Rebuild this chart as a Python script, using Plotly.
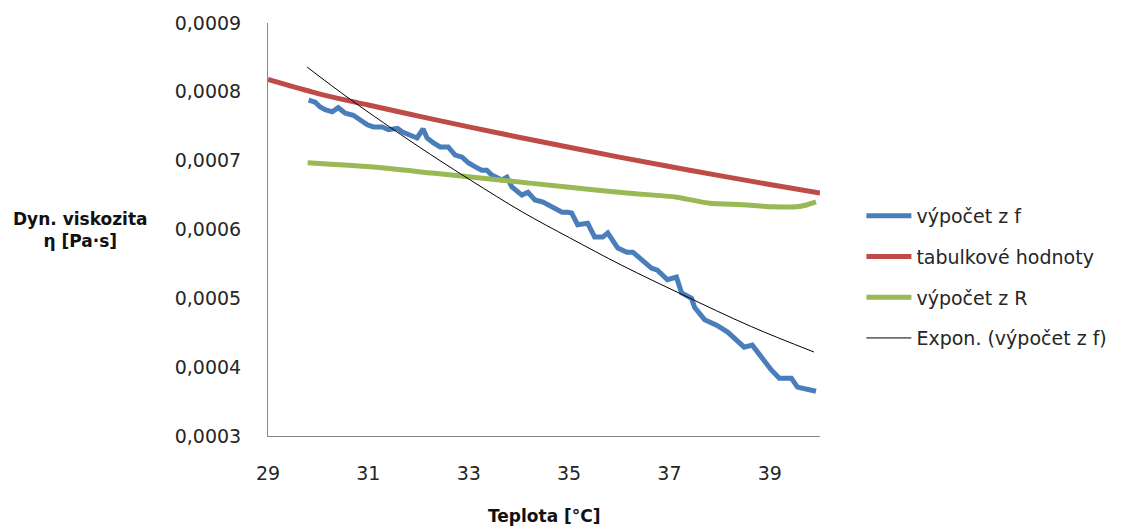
import plotly.graph_objects as go

# --- data ---
t_f = [29.81, 29.94, 30.04, 30.14, 30.28, 30.40, 30.54, 30.70, 30.84, 30.98,
       31.10, 31.28, 31.40, 31.58, 31.67, 31.83, 31.97, 32.09, 32.17, 32.29,
       32.43, 32.59, 32.73, 32.87, 32.99, 33.13, 33.26, 33.36, 33.46, 33.66,
       33.76, 33.86, 34.06, 34.18, 34.32, 34.48, 34.66, 34.86, 34.97, 35.05,
       35.17, 35.37, 35.51, 35.67, 35.77, 35.97, 36.15, 36.27, 36.45, 36.64,
       36.76, 36.96, 37.14, 37.24, 37.44, 37.50, 37.70, 37.94, 38.16, 38.29,
       38.49, 38.65, 38.83, 39.03, 39.19, 39.43, 39.55, 39.83, 39.92]
eta_f = [0.000788, 0.000785, 0.000778, 0.000774, 0.000771, 0.000777, 0.000769, 0.000766, 0.000759, 0.000752,
         0.000749, 0.000749, 0.000745, 0.000747, 0.000742, 0.000737, 0.000733, 0.000746, 0.000733, 0.000726,
         0.000720, 0.000720, 0.000708, 0.000705, 0.000697, 0.000691, 0.000686, 0.000686, 0.000679, 0.000672,
         0.000676, 0.000662, 0.000650, 0.000654, 0.000643, 0.000640, 0.000633, 0.000625, 0.000625, 0.000624,
         0.000607, 0.000609, 0.000589, 0.000589, 0.000595, 0.000573, 0.000567, 0.000567, 0.000556, 0.000544,
         0.000541, 0.000527, 0.000531, 0.000508, 0.000500, 0.000487, 0.000469, 0.000461, 0.000451, 0.000442,
         0.000429, 0.000432, 0.000415, 0.000396, 0.000384, 0.000384, 0.000371, 0.000367, 0.000365]

t_tab = [29, 30, 31, 32, 33, 34, 35, 36, 37, 38, 39, 40]
eta_tab = [0.0008180, 0.0007975, 0.0007808, 0.0007647, 0.0007491, 0.0007340,
           0.0007194, 0.0007052, 0.0006915, 0.0006783, 0.0006654, 0.0006529]

t_r = [29.79, 31.04, 32.27, 33.62, 34.91, 36.15, 37.14, 37.80, 38.45, 39.05, 39.53, 39.75, 39.92]
eta_r = [0.000697, 0.000691, 0.000682, 0.000672, 0.000662, 0.000653, 0.000647,
         0.000638, 0.000636, 0.000633, 0.000633, 0.000636, 0.000640]

# exponential trendline of "výpočet z f"
t_exp = [29.78, 30.64, 31.97, 33.03, 34.08, 35.01, 36.05, 37.24, 38.63, 39.88]
eta_exp = [0.000836, 0.000789, 0.000722, 0.000672, 0.000625, 0.000588,
           0.000548, 0.000506, 0.000459, 0.000422]

name_f = "výpočet z f"
name_tab = "tabulkové hodnoty"
name_r = "výpočet z R"
name_exp = "Expon. (výpočet z f)"

FONT = "DejaVu Sans"
TXT = "#262626"

fig = go.Figure()
fig.add_trace(go.Scatter(x=t_f, y=eta_f, mode="lines", name=name_f,
                         line=dict(color="#4A7EBB", width=5), legendgroup="a"))
fig.add_trace(go.Scatter(x=t_tab, y=eta_tab, mode="lines", name=name_tab,
                         line=dict(color="#BE4B48", width=5, shape="spline"), legendgroup="b"))
fig.add_trace(go.Scatter(x=t_r, y=eta_r, mode="lines", name=name_r,
                         line=dict(color="#98B954", width=5, shape="spline", smoothing=0.6),
                         legendgroup="c"))
fig.add_trace(go.Scatter(x=t_exp, y=eta_exp, mode="lines", name=name_exp,
                         line=dict(color="#000000", width=1, shape="spline"), legendgroup="d"))

fig.update_layout(
    width=1124, height=529,
    margin=dict(l=268, r=304, t=23, b=93),
    paper_bgcolor="white", plot_bgcolor="white",
    separators=",.",
    font=dict(family=FONT, size=18, color=TXT),
    showlegend=True,
    legend=dict(x=1.075, y=0.385, xanchor="left", yanchor="middle",
                font=dict(family=FONT, size=19, color=TXT), itemwidth=45,
                tracegroupgap=13, bgcolor="rgba(0,0,0,0)"),
    xaxis=dict(range=[29, 40], dtick=2, tick0=29, showgrid=False, zeroline=False,
               showline=True, linecolor="#868686", linewidth=1, ticks="",
               ticklabelstandoff=20, tickfont=dict(size=19)),
    yaxis=dict(range=[0.0003, 0.0009], dtick=0.0001, tickformat=".4f", showgrid=False,
               zeroline=False, showline=True, linecolor="#868686", linewidth=1, ticks="",
               ticklabelstandoff=22, tickfont=dict(size=19)),
    annotations=[
        dict(text="<b>Dyn. viskozita</b><br><b>η [Pa·s]</b>", xref="paper", yref="paper",
             x=-0.34, y=0.5, xanchor="center", yanchor="middle", showarrow=False,
             font=dict(family=FONT, size=17, color="#111111")),
        dict(text="<b>Teplota [°C]</b>", xref="paper", yref="paper",
             x=0.5, y=-0.194, xanchor="center", yanchor="middle", showarrow=False,
             font=dict(family=FONT, size=17, color="#111111")),
    ],
)

fig.write_html("out.html")
